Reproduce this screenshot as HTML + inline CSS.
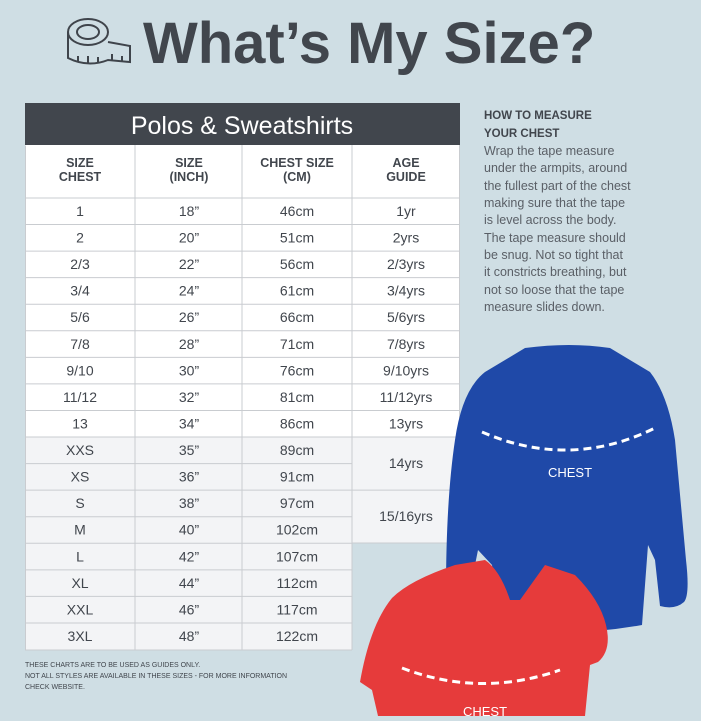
<!DOCTYPE html>
<html><head><meta charset="utf-8"><style>
body{margin:0;width:701px;height:716px;overflow:hidden;background:#cfdee4;font-family:"Liberation Sans",sans-serif}
</style></head><body>
<svg width="701" height="716" viewBox="0 0 701 716" xmlns="http://www.w3.org/2000/svg" font-family="Liberation Sans, sans-serif">
<rect width="701" height="716" fill="#cfdee4"/>
<g fill="none" stroke="#3f444b" stroke-width="2">
<ellipse cx="88" cy="32" rx="20" ry="13"/><ellipse cx="88" cy="32" rx="11" ry="7"/>
<path d="M68 32 V58 Q88 68 108 60 L130 62 V46 L108 42"/><path d="M78 62v-6M88 64v-8M98 63v-6M112 61v-7M122 62v-6"/>
</g>
<text x="143" y="63" font-size="58" font-weight="bold" fill="#41464d">What’s My Size?</text>
<rect x="25" y="103" width="435" height="42" fill="#41464d"/>
<text x="242" y="134" font-size="25" fill="#fff" text-anchor="middle">Polos &amp; Sweatshirts</text>
<rect x="25" y="145" width="435" height="292" fill="#fff"/>
<rect x="25" y="437" width="327" height="213" fill="#f3f4f6"/>
<rect x="352" y="437" width="108" height="106" fill="#f3f4f6"/>
<g stroke="#c9ccd0" stroke-width="1" fill="none">
<line x1="135" y1="145" x2="135" y2="650"/><line x1="242" y1="145" x2="242" y2="650"/><line x1="352" y1="145" x2="352" y2="650"/>
<path d="M25.5 145.5V650H352M459.5 145V543H352"/>
</g>
<g font-size="12.5" font-weight="bold" fill="#41464d" text-anchor="middle">
<text x="80" y="167">SIZE</text><text x="80" y="181">CHEST</text>
<text x="189" y="167">SIZE</text><text x="189" y="181">(INCH)</text>
<text x="297" y="167">CHEST SIZE</text><text x="297" y="181">(CM)</text>
<text x="406" y="167">AGE</text><text x="406" y="181">GUIDE</text>
</g>
<g id="rows" font-size="14" fill="#41464d" text-anchor="middle"></g>
</svg>
<script>
var d=[["1","18”","46cm","1yr"],["2","20”","51cm","2yrs"],["2/3","22”","56cm","2/3yrs"],["3/4","24”","61cm","3/4yrs"],["5/6","26”","66cm","5/6yrs"],["7/8","28”","71cm","7/8yrs"],["9/10","30”","76cm","9/10yrs"],["11/12","32”","81cm","11/12yrs"],["13","34”","86cm","13yrs"],["XXS","35”","89cm",""],["XS","36”","91cm",""],["S","38”","97cm",""],["M","40”","102cm",""],["L","42”","107cm",""],["XL","44”","112cm",""],["XXL","46”","117cm",""],["3XL","48”","122cm",""]];
var ns="http://www.w3.org/2000/svg",g=document.getElementById("rows"),s=document.querySelector("svg");
function t(x,y,s2){var e=document.createElementNS(ns,"text");e.setAttribute("x",x);e.setAttribute("y",y);e.textContent=s2;g.appendChild(e);}
function l(x1,x2,y){var e=document.createElementNS(ns,"line");e.setAttribute("x1",x1);e.setAttribute("x2",x2);e.setAttribute("y1",y);e.setAttribute("y2",y);e.setAttribute("stroke","#c9ccd0");s.insertBefore(e,g);}
var h=26.56;
for(var i=0;i<17;i++){var y=198+i*h;l(25,(i<=9||i==11)?460:352,y);
t(80,y+18,d[i][0]);t(189,y+18,d[i][1]);t(297,y+18,d[i][2]);if(d[i][3])t(406,y+18,d[i][3]);}
t(406,198+9*h+31,"14yrs");t(406,198+11*h+31,"15/16yrs");
</script>
<svg style="position:absolute;left:0;top:0" width="701" height="716" xmlns="http://www.w3.org/2000/svg" font-family="Liberation Sans, sans-serif">
<g font-size="11.5" fill="#41464d" font-weight="bold"><text x="484" y="119">HOW TO MEASURE</text><text x="484" y="137">YOUR CHEST</text></g>
<g font-size="12.5" fill="#5a5f66">
<text x="484" y="155">Wrap the tape measure</text><text x="484" y="172">under the armpits, around</text><text x="484" y="190">the fullest part of the chest</text><text x="484" y="207">making sure that the tape</text><text x="484" y="224">is level across the body.</text><text x="484" y="242">The tape measure should</text><text x="484" y="259">be snug. Not so tight that</text><text x="484" y="276">it constricts breathing, but</text><text x="484" y="294">not so loose that the tape</text><text x="484" y="311">measure slides down.</text>
</g>
<path d="M525 348 Q570 342 610 348 L650 372 Q668 395 675 440 L686 560 Q690 595 684 602 Q675 610 660 606 L655 560 L648 545 L642 625 Q570 638 500 628 L492 565 L478 550 L468 600 Q455 605 446 592 Q446 500 455 440 Q462 390 485 372 Z" fill="#1f49a8"/>
<path d="M482 432 Q570 470 655 428" fill="none" stroke="#fff" stroke-width="3" stroke-dasharray="8 5"/>
<text x="570" y="477" font-size="13" fill="#fff" text-anchor="middle">CHEST</text>
<path d="M455 565 L485 560 Q500 570 510 600 L520 600 L545 565 L575 575 Q600 600 606 625 Q612 650 598 662 L590 665 L585 716 L378 716 L372 690 L360 682 Q370 625 392 598 Q410 580 455 565 Z" fill="#e63b3b"/>
<path d="M402 668 Q480 698 560 670" fill="none" stroke="#fff" stroke-width="3" stroke-dasharray="8 5"/>
<text x="485" y="716" font-size="13" fill="#fff" text-anchor="middle">CHEST</text>
<g font-size="7" fill="#41464d"><text x="25" y="667">THESE CHARTS ARE TO BE USED AS GUIDES ONLY.</text><text x="25" y="678">NOT ALL STYLES ARE AVAILABLE IN THESE SIZES - FOR MORE INFORMATION</text><text x="25" y="689">CHECK WEBSITE.</text></g>
</svg>
</body></html>
